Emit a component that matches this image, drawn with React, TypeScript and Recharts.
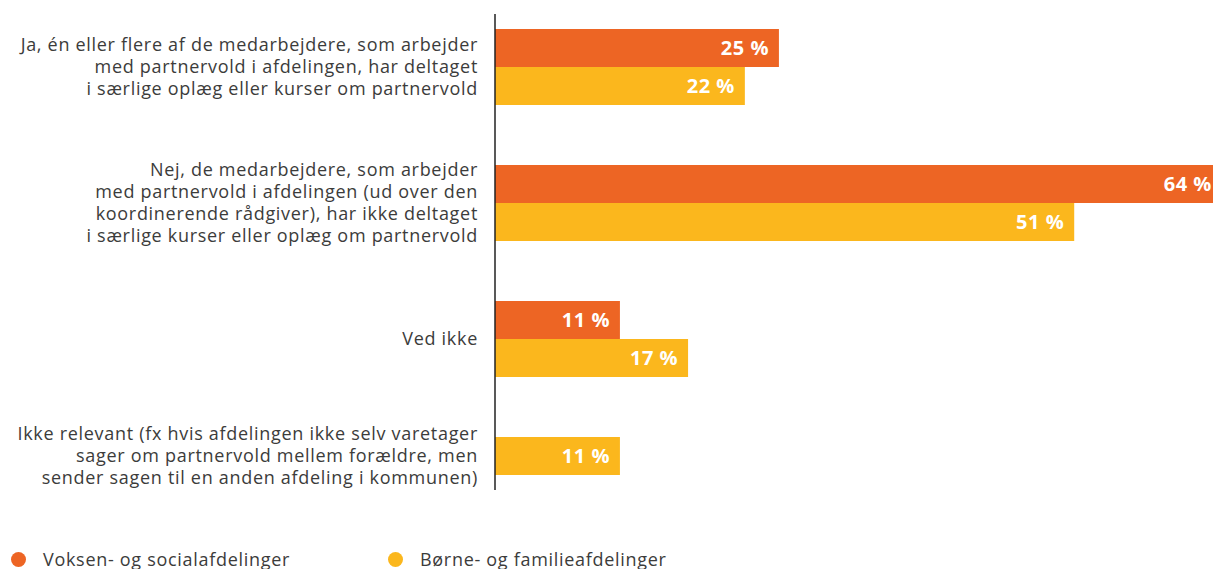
import { BarChart, Bar, XAxis, YAxis, Legend, LabelList, Cell } from 'recharts';

const categories = [
  'Ja, én eller flere af de medarbejdere, som arbejder\nmed partnervold i afdelingen, har deltaget\ni særlige oplæg eller kurser om partnervold',
  'Nej, de medarbejdere, som arbejder\nmed partnervold i afdelingen (ud over den\nkoordinerende rådgiver), har ikke deltaget\ni særlige kurser eller oplæg om partnervold',
  'Ved ikke',
  'Ikke relevant (fx hvis afdelingen ikke selv varetager\nsager om partnervold mellem forældre, men\nsender sagen til en anden afdeling i kommunen)',
];
const voksen: (number | null)[] = [25, 64, 11, null];
const boerne: (number | null)[] = [22, 51, 17, 11];
const seriesNames = ['Voksen- og socialafdelinger', 'Børne- og familieafdelinger'];

const ORANGE = '#ED6524';
const YELLOW = '#FBB71D';
const TEXT = '#3C3C3B';
const FONT = '"Open Sans", sans-serif';
const seriesColors = [ORANGE, YELLOW];

// a category with only one series gets its bar in the first slot
const rows = categories.map((label, i) => {
  const solo = voksen[i] == null;
  return {
    label,
    solo,
    first: solo ? boerne[i] : voksen[i],
    second: solo ? null : boerne[i],
  };
});

const pct = (v: any) => (v == null ? '' : `${v} %`);

function CategoryTick({ x, y, payload }: any) {
  const lines = String(payload.value).split('\n');
  const shift = rows[payload.index]?.solo ? -19 : 0;
  const start = -((lines.length - 1) * 22) / 2 + shift;
  return (
    <text x={x - 9} y={y} textAnchor="end" fill={TEXT} fontSize={18} letterSpacing={0.7} fontFamily={FONT}>
      {lines.map((l, i) => (
        <tspan key={i} x={x - 9} y={y + start + i * 22} dy="0.35em">{l}</tspan>
      ))}
    </text>
  );
}

function LegendContent() {
  return (
    <div style={{ display: 'flex', fontFamily: FONT, fontSize: 18, letterSpacing: 0.7, color: TEXT, lineHeight: '22px' }}>
      {seriesNames.map((name, i) => (
        <div key={i} style={{ display: 'flex', alignItems: 'center', width: 377 }}>
          <span style={{ width: 15, height: 15, borderRadius: '50%', background: seriesColors[i], marginRight: 17, flex: 'none' }} />
          <span>{name}</span>
        </div>
      ))}
    </div>
  );
}

export default function App() {
  return (
    <div style={{ position: 'fixed', top: 0, left: 0, width: 1213, height: 569, overflow: 'hidden', background: '#fff' }}>
      <BarChart
        width={1290}
        height={569}
        data={rows}
        layout="vertical"
        margin={{ top: 14, right: 0, bottom: 79, left: 0 }}
        barCategoryGap={30}
        barGap={0}
      >
        <XAxis type="number" domain={[0, 70]} hide />
        <YAxis
          type="category"
          dataKey="label"
          width={495}
          padding={{ top: -15, bottom: -53 }}
          axisLine={{ stroke: '#222', strokeWidth: 1.5 }}
          tickLine={false}
          tick={<CategoryTick />}
          interval={0}
        />
        <Legend
          layout="horizontal"
          verticalAlign="middle"
          align="center"
          wrapperStyle={{ top: 548, left: 11, width: 900 }}
          content={<LegendContent />}
        />
        <Bar dataKey="first" name={seriesNames[0]} fill={ORANGE} isAnimationActive={false}>
          {rows.map((r, i) => (
            <Cell key={i} fill={r.solo ? YELLOW : ORANGE} />
          ))}
          <LabelList dataKey="first" position="insideRight" offset={10} formatter={pct} fill="#fff" fontSize={20} fontWeight={700} letterSpacing={0.5} fontFamily={FONT} />
        </Bar>
        <Bar dataKey="second" name={seriesNames[1]} fill={YELLOW} isAnimationActive={false}>
          <LabelList dataKey="second" position="insideRight" offset={10} formatter={pct} fill="#fff" fontSize={20} fontWeight={700} letterSpacing={0.5} fontFamily={FONT} />
        </Bar>
      </BarChart>
    </div>
  );
}
